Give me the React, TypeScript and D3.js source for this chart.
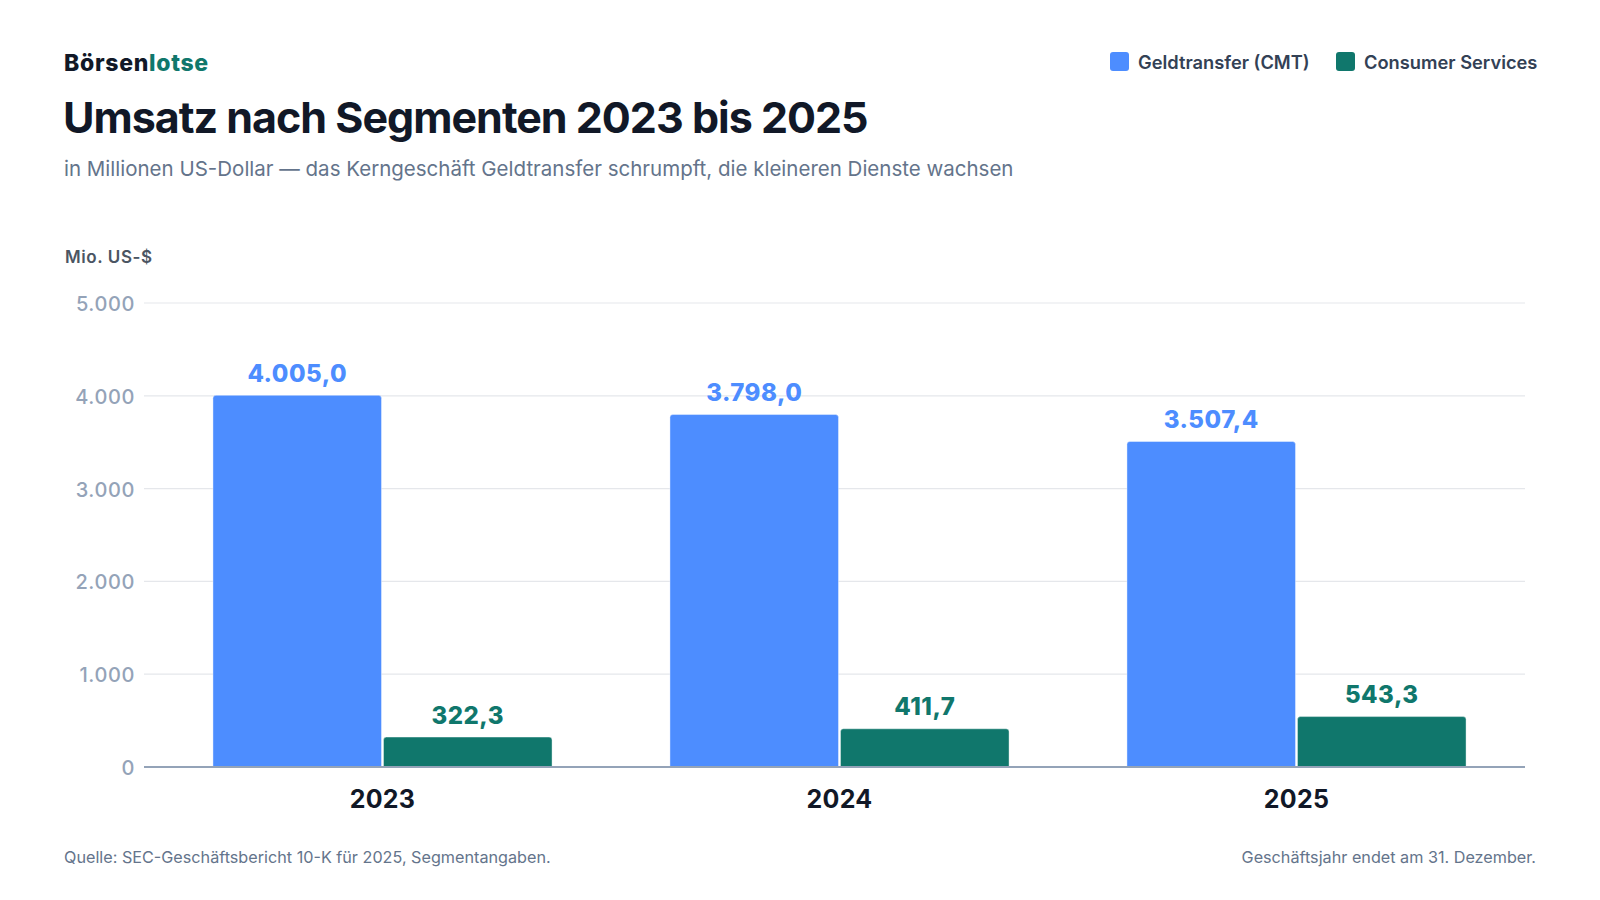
import * as d3 from 'd3'

const years = ['2023', '2024', '2025']
const cmtValues = [4005.0, 3798.0, 3507.4]
const consumerValues = [322.3, 411.7, 543.3]
const seriesNames = ['Geldtransfer (CMT)', 'Consumer Services']
const yTicks = [0, 1000, 2000, 3000, 4000, 5000]

const BLUE = '#4d8dff'
const GREEN = '#10776c'
const FONT = 'Inter, "Noto Sans", sans-serif'

const de = d3.formatLocale({ decimal: ',', thousands: '.', grouping: [3], currency: ['', ' $'] })
const fmtTick = de.format(',.0f')
const fmtVal = de.format(',.1f')

// bar with only the top corners rounded
const topRounded = (x: number, y: number, w: number, h: number, r: number) => {
  const rr = Math.min(r, h, w / 2)
  return `M${x},${y + h} V${y + rr} Q${x},${y} ${x + rr},${y} H${x + w - rr} Q${x + w},${y} ${x + w},${y + rr} V${y + h} Z`
}

const App = () => {
  const width = 1600
  const height = 900
  const left = 144
  const right = 1525
  const top = 303
  const bottom = 767

  const x = d3.scaleBand().domain(years).range([154, right]).paddingInner(0).paddingOuter(0)
  const y = d3.scaleLinear().domain([0, 5000]).range([bottom, top])
  const groupW = x.bandwidth() * 0.742
  const gap = 2
  const barW = (groupW - gap) / 2

  const series = [cmtValues, consumerValues]
  const colors = [BLUE, GREEN]
  const legendX = [1110, 1336]

  return (
    <div style={{ position: 'fixed', inset: 0, background: '#fff' }}>
      <svg width={width} height={height} style={{ display: 'block', fontFamily: FONT }}>
        <text x={64} y={71} fontSize={23} fontWeight={800} fill="#111827" letterSpacing={0.7}>
          Börsen<tspan fill={GREEN}>lotse</tspan>
        </text>
        <text x={63} y={133} fontSize={43} fontWeight={700} fill="#111827" letterSpacing={-1}>
          Umsatz nach Segmenten 2023 bis 2025
        </text>
        <text x={64} y={176} fontSize={20.5} fill="#64748b">
          in Millionen US-Dollar — das Kerngeschäft Geldtransfer schrumpft, die kleineren Dienste wachsen
        </text>

        {/* legend */}
        {legendX.map((lx, i) => (
          <g key={seriesNames[i]}>
            <rect x={lx} y={52} width={19} height={19} rx={3} fill={colors[i]} />
            <text x={lx + 28} y={68.5} fontSize={18.3} fontWeight={600} fill="#334155">
              {seriesNames[i]}
            </text>
          </g>
        ))}

        <text x={65} y={263} fontSize={17} fontWeight={600} fill="#4b5563" letterSpacing={0.6}>
          Mio. US-$
        </text>

        {/* grid + y ticks */}
        {yTicks.map(t => (
          <g key={t}>
            {t > 0 && <line x1={left} x2={right} y1={y(t)} y2={y(t)} stroke="#e5e7eb" strokeWidth={1.2} />}
            <text x={135} y={y(t) + 8} textAnchor="end" fontSize={20} fontWeight={500} fill="#94a3b8" letterSpacing={0.6}>
              {fmtTick(t)}
            </text>
          </g>
        ))}

        {/* bars */}
        {years.map((yr, i) => {
          const cx = (x(yr) ?? 0) + x.bandwidth() / 2
          const gx = cx - groupW / 2
          return (
            <g key={yr}>
              {series.map((vals, s) => {
                const bx = gx + s * (barW + gap)
                const by = y(vals[i])
                return (
                  <g key={s}>
                    <path d={topRounded(bx, by, barW, bottom - by, 3)} fill={colors[s]} stroke="#fff" strokeOpacity={0.4} strokeWidth={1} />
                    <text x={bx + barW / 2} y={by - 13.5} textAnchor="middle" fontSize={24} fontWeight={800} fill={colors[s]} letterSpacing={0.5}>
                      {fmtVal(vals[i])}
                    </text>
                  </g>
                )
              })}
              <text x={cx} y={808} textAnchor="middle" fontSize={25} fontWeight={700} fill="#111827" letterSpacing={0.25}>
                {yr}
              </text>
            </g>
          )
        })}

        <line x1={left} x2={right} y1={bottom} y2={bottom} stroke="#94a3b8" strokeWidth={2} />

        <text x={64} y={863} fontSize={16.2} fill="#64748b">
          Quelle: SEC-Geschäftsbericht 10-K für 2025, Segmentangaben.
        </text>
        <text x={1536} y={863} textAnchor="end" fontSize={16.2} fill="#64748b">
          Geschäftsjahr endet am 31. Dezember.
        </text>
      </svg>
    </div>
  )
}

export default App
